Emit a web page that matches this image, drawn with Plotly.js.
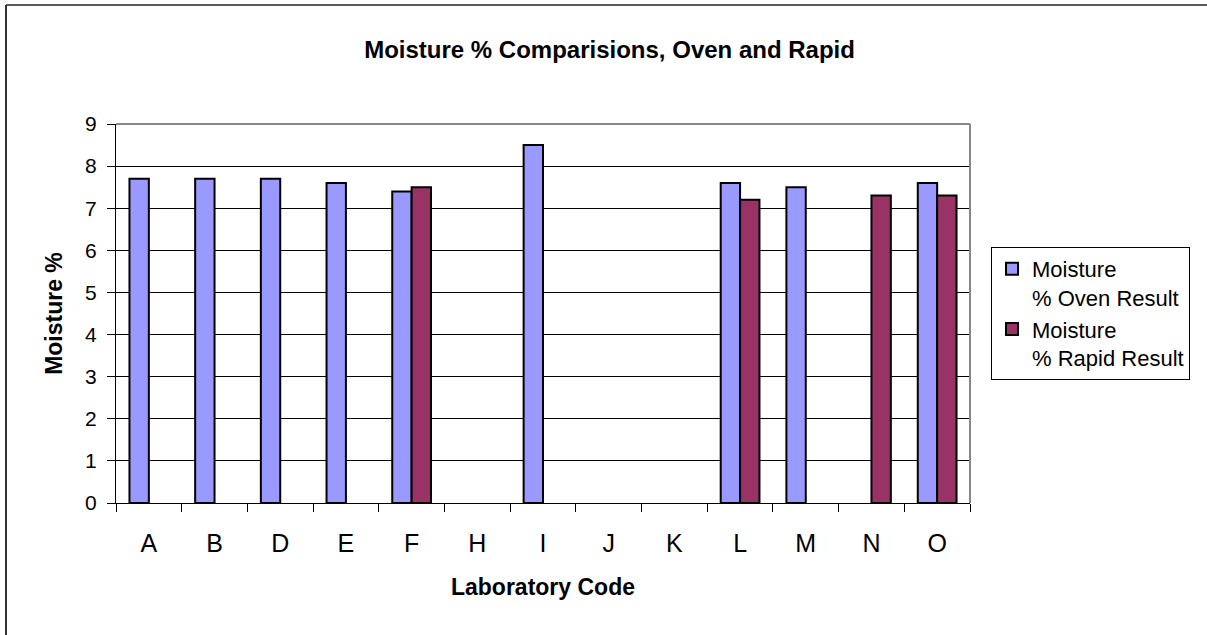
<!DOCTYPE html>
<html>
<head>
<meta charset="utf-8">
<script src="https://cdn.plot.ly/plotly-3.0.1.min.js"></script>
<style>html,body{margin:0;padding:0;background:#fff;}#chart{width:1207px;height:635px;}</style>
</head>
<body>
<div id="chart"></div>
<script>
const categories = ["A","B","D","E","F","H","I","J","K","L","M","N","O"];
const ovenValues = [7.7, 7.7, 7.7, 7.6, 7.4, null, 8.5, null, null, 7.6, 7.5, null, 7.6];
const rapidValues = [null, null, null, null, 7.5, null, null, null, null, 7.2, null, 7.3, 7.3];
const yTicks = [0,1,2,3,4,5,6,7,8,9];

const traces = [
  {type:"bar", name:"Moisture<br>% Oven Result", x:categories, y:ovenValues,
   marker:{color:"#9999FF", line:{color:"#000", width:2}}},
  {type:"bar", name:"Moisture<br>% Rapid Result", x:categories, y:rapidValues,
   marker:{color:"#993366", line:{color:"#000", width:2}}}
];

const layout = {
  width:1207, height:635,
  margin:{l:116, r:237, t:124, b:132},
  paper_bgcolor:"#fff", plot_bgcolor:"#fff",
  font:{family:"Liberation Sans, Arial, sans-serif", color:"#000"},
  title:{text:"<b>Moisture % Comparisions, Oven and Rapid</b>", font:{size:24},
         x:0.505, xref:"container", xanchor:"center", y:0.922, yref:"container", yanchor:"middle"},
  barmode:"group", bargap:0.41, bargroupgap:0,
  showlegend:true,
  legend:{x:1.0246, xanchor:"left", y:0.5, yanchor:"middle", bordercolor:"#000", borderwidth:1,
          font:{size:22}, tracegroupgap:6, bgcolor:"#fff", valign:"top"},
  xaxis:{
    title:{text:"<b>Laboratory Code</b>", font:{size:23}, standoff:22},
    type:"category", tickfont:{size:25}, ticks:"outside", ticklen:8, tickcolor:"#000",
    ticklabelstandoff:18,
    tickson:"boundaries", showline:true, linecolor:"#000", linewidth:1, mirror:false,
    showgrid:false, zeroline:false, automargin:false
  },
  yaxis:{
    title:{text:"<b>Moisture %</b>", font:{size:23}, standoff:16},
    range:[0,9], tickvals:yTicks, tickfont:{size:21}, ticks:"outside", ticklen:8, tickcolor:"#000",
    ticklabelstandoff:6,
    showline:true, linecolor:"#000", linewidth:1, showgrid:true, gridcolor:"#000", gridwidth:1,
    zeroline:false, automargin:false
  },
  shapes:[
    {type:"line", xref:"paper", yref:"paper", x0:0, x1:1, y0:1, y1:1, line:{color:"#888", width:2}},
    {type:"line", xref:"paper", yref:"paper", x0:1, x1:1, y0:0, y1:1, line:{color:"#888", width:2}},
    {type:"line", xref:"paper", yref:"paper", x0:-0.1288, x1:1.3, y0:1.314, y1:1.314, line:{color:"#222", width:1.5}},
    {type:"line", xref:"paper", yref:"paper", x0:-0.1288, x1:-0.1288, y0:-0.4, y1:1.314, line:{color:"#333", width:2}}
  ]
};

Plotly.newPlot("chart", traces, layout, {displayModeBar:false, staticPlot:true});
</script>
</body>
</html>
